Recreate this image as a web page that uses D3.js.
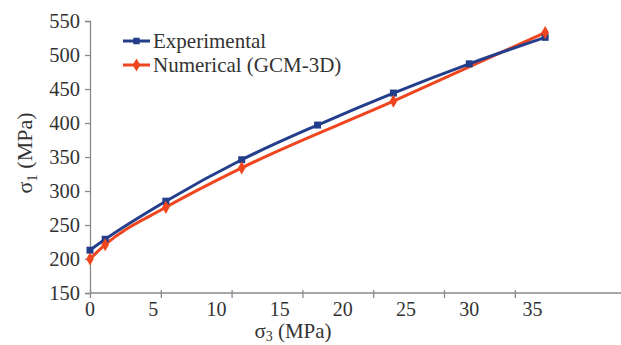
<!DOCTYPE html>
<html>
<head>
<meta charset="utf-8">
<script src="https://cdn.jsdelivr.net/npm/d3@7"></script>
<style>
  body { margin: 0; background: #fff; }
</style>
</head>
<body>
<svg id="chart" width="621" height="345"></svg>
<script>
// data
var sigma3 = [0, 1.2, 6, 12, 18, 24, 30, 36];
var experimental = [213, 229, 285, 346, 397, 444, 487, 526];
var numerical = [200, 221, 276, 334, null, 432, null, 533];
var xTickLabels = [0, 5, 10, 15, 20, 25, 30, 35];
var xTickMarks = [0, 5.6, 11.2, 16.8, 22.4, 28, 33.6];
var yTicks = [150, 200, 250, 300, 350, 400, 450, 500, 550];

var serif = "'Liberation Serif'";

var svg = d3.select("#chart");

var x = d3.scaleLinear().domain([0, 42]).range([90, 621]);
var y = d3.scaleLinear().domain([150, 550]).range([293, 21]);

var axisColor = "#8a8a8a";

// y axis
var yAxis = svg.append("g").attr("transform", "translate(90,0)")
  .call(d3.axisLeft(y).tickValues(yTicks).tickSize(5).tickPadding(5));
yAxis.attr("font-family", null).attr("font-size", null);
yAxis.select(".domain").attr("stroke", axisColor).attr("stroke-width", 1.3);
yAxis.selectAll(".tick line").attr("stroke", axisColor).attr("stroke-width", 1.3);
yAxis.selectAll(".tick text")
  .style("font-family", serif).style("font-size", "20.5px").attr("fill", "#333");

// x axis: line + tick marks
var xAxis = svg.append("g").attr("transform", "translate(0,293)")
  .call(d3.axisBottom(x).tickValues(xTickMarks).tickSize(5).tickFormat(""));
xAxis.select(".domain").attr("stroke", axisColor).attr("stroke-width", 1.3)
  .attr("d", "M90,0H621");
xAxis.selectAll(".tick line").attr("stroke", axisColor).attr("stroke-width", 1.3)
  .attr("y1", -3);

// x tick labels (they do not sit on the tick marks in the source)
svg.append("g").selectAll("text")
  .data(xTickLabels)
  .enter().append("text")
  .attr("x", function (d) { return x(d); })
  .attr("y", 316)
  .attr("text-anchor", "middle")
  .attr("fill", "#333")
  .style("font-family", serif)
  .style("font-size", "20px")
  .text(function (d) { return d; });

// axis titles
var yTitle = svg.append("text")
  .attr("transform", "translate(32,153) rotate(-90)")
  .attr("text-anchor", "middle")
  .attr("fill", "#333")
  .style("font-family", serif)
  .style("font-size", "22px");
yTitle.append("tspan").text("σ");
yTitle.append("tspan").attr("dy", 5).style("font-size", "15px").text("1");
yTitle.append("tspan").attr("dy", -5).text(" (MPa)");

var xTitle = svg.append("text")
  .attr("x", 293).attr("y", 338)
  .attr("text-anchor", "middle")
  .attr("fill", "#333")
  .style("font-family", serif)
  .style("font-size", "21px");
xTitle.append("tspan").text("σ");
xTitle.append("tspan").attr("dy", 3).style("font-size", "14px").text("3");
xTitle.append("tspan").attr("dy", -3).text(" (MPa)");

var blue = "#233e8b";
var red = "#f0461f";

var line = d3.line()
  .x(function (d) { return x(d[0]); })
  .y(function (d) { return y(d[1]); })
  .curve(d3.curveMonotoneX);

var expData = sigma3.map(function (s, i) { return [s, experimental[i]]; });
var numData = sigma3.map(function (s, i) { return [s, numerical[i]]; })
  .filter(function (d) { return d[1] != null; });

svg.append("path").datum(numData)
  .attr("d", line).attr("fill", "none").attr("stroke", red).attr("stroke-width", 3);
svg.append("path").datum(expData)
  .attr("d", line).attr("fill", "none").attr("stroke", blue).attr("stroke-width", 3);

svg.append("g").selectAll("rect")
  .data(expData).enter().append("rect")
  .attr("x", function (d) { return x(d[0]) - 3.5; })
  .attr("y", function (d) { return y(d[1]) - 3.5; })
  .attr("width", 7).attr("height", 7)
  .attr("fill", blue);

var diamond = d3.symbol().type(d3.symbolDiamond).size(50);
svg.append("g").selectAll("path")
  .data(numData).enter().append("path")
  .attr("d", diamond)
  .attr("transform", function (d) { return "translate(" + x(d[0]) + "," + y(d[1]) + ")"; })
  .attr("fill", red);

// legend
var legend = [
  { name: "Experimental", color: blue, shape: "square" },
  { name: "Numerical (GCM-3D)", color: red, shape: "diamond" }
];
var lg = svg.selectAll("g.legend").data(legend).enter().append("g")
  .attr("class", "legend")
  .attr("transform", function (d, i) { return "translate(123," + (41 + i * 24) + ")"; });
lg.append("line").attr("x1", 0).attr("x2", 27).attr("y1", 0).attr("y2", 0)
  .attr("stroke", function (d) { return d.color; }).attr("stroke-width", 3);
lg.append("path")
  .attr("d", function (d) {
    return d3.symbol().type(d.shape == "square" ? d3.symbolSquare : d3.symbolDiamond)
      .size(d.shape == "square" ? 42 : 50)();
  })
  .attr("transform", "translate(13.5,0)")
  .attr("fill", function (d) { return d.color; });
lg.append("text").attr("x", 30).attr("y", 7)
  .attr("fill", "#333")
  .style("font-family", serif)
  .style("font-size", "21px")
  .text(function (d) { return d.name; });
</script>
</body>
</html>
